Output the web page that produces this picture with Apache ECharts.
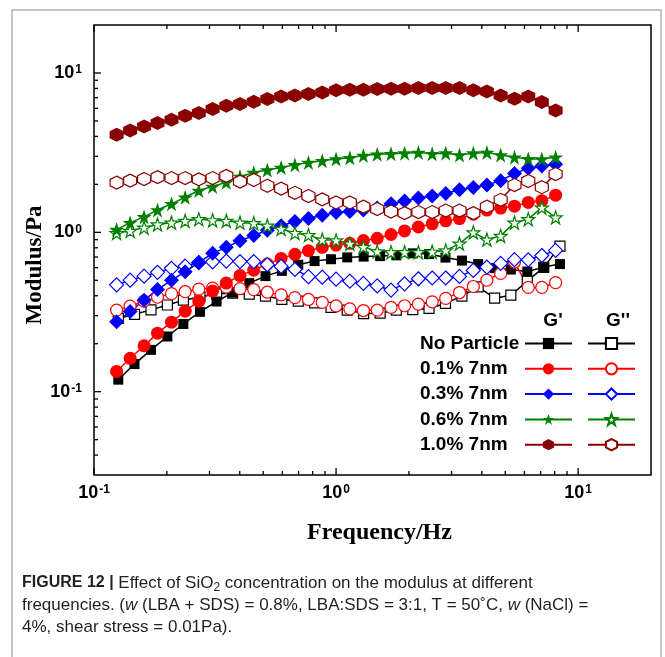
<!DOCTYPE html>
<html>
<head>
<meta charset="utf-8">
<title>Modulus vs frequency</title>
<script src="https://cdn.jsdelivr.net/npm/echarts@6/dist/echarts.min.js"></script>
<style>html,body{margin:0;padding:0;background:#fff;}</style>
</head>
<body>
<div id="main" style="width:665px;height:657px;"></div>
<script>
// frequencies (Hz) - particle runs and no-particle run were sampled differently
var freqA = [0.124, 0.141, 0.161, 0.183, 0.209, 0.238, 0.271, 0.309, 0.352, 0.401, 0.457,
             0.520, 0.593, 0.676, 0.769, 0.877, 1.000, 1.140, 1.297, 1.479, 1.687, 1.919,
             2.188, 2.495, 2.838, 3.236, 3.690, 4.198, 4.786, 5.458, 6.223, 7.079, 8.072];
var freqB = [0.126, 0.147, 0.172, 0.201, 0.234, 0.274, 0.321, 0.374, 0.438, 0.511, 0.597,
             0.698, 0.815, 0.953, 1.112, 1.300, 1.521, 1.774, 2.075, 2.421, 2.831, 3.311,
             3.864, 4.519, 5.272, 6.166, 7.211, 8.414];

var names = ['No Particle', '0.1% 7nm', '0.3% 7nm', '0.6% 7nm', '1.0% 7nm'];

// G' (storage) and G'' (loss), Pa
var gp0  = [0.119, 0.149, 0.183, 0.222, 0.266, 0.317, 0.368, 0.418, 0.480, 0.531, 0.573, 0.626, 0.660, 0.678,
            0.696, 0.704, 0.709, 0.717, 0.738, 0.730, 0.694, 0.665, 0.632, 0.596, 0.584, 0.567, 0.605, 0.632];
var gpp0 = [0.288, 0.306, 0.326, 0.350, 0.375, 0.393, 0.411, 0.415, 0.409, 0.398, 0.380, 0.370, 0.361, 0.338,
            0.325, 0.309, 0.311, 0.325, 0.327, 0.333, 0.358, 0.398, 0.455, 0.386, 0.403, 0.494, 0.603, 0.820];
var gp1  = [0.134, 0.162, 0.194, 0.233, 0.273, 0.320, 0.370, 0.428, 0.480, 0.535, 0.579, 0.632, 0.686, 0.728,
            0.766, 0.805, 0.832, 0.853, 0.888, 0.917, 0.969, 1.02, 1.08, 1.13, 1.18, 1.22, 1.30, 1.38, 1.42,
            1.46, 1.54, 1.58, 1.71];
var gpp1 = [0.325, 0.344, 0.370, 0.392, 0.412, 0.424, 0.440, 0.447, 0.453, 0.443, 0.437, 0.421, 0.405, 0.389,
            0.379, 0.363, 0.345, 0.331, 0.323, 0.325, 0.338, 0.346, 0.354, 0.366, 0.385, 0.419, 0.457, 0.501,
            0.552, 0.651, 0.451, 0.451, 0.483];
var gp2  = [0.275, 0.318, 0.375, 0.437, 0.501, 0.565, 0.646, 0.738, 0.805, 0.886, 0.955, 1.03, 1.10, 1.17,
            1.22, 1.28, 1.33, 1.35, 1.38, 1.42, 1.51, 1.57, 1.64, 1.69, 1.75, 1.85, 1.91, 1.98, 2.11, 2.34,
            2.52, 2.61, 2.67];
var gpp2 = [0.468, 0.501, 0.531, 0.561, 0.594, 0.614, 0.646, 0.653, 0.660, 0.655, 0.655, 0.627, 0.611, 0.585,
            0.527, 0.523, 0.508, 0.494, 0.478, 0.461, 0.434, 0.475, 0.511, 0.517, 0.517, 0.529, 0.577, 0.605,
            0.638, 0.674, 0.672, 0.715, 0.770];
var gp3  = [1.04, 1.15, 1.25, 1.38, 1.51, 1.66, 1.83, 1.94, 2.06, 2.24, 2.37, 2.46, 2.55, 2.65, 2.74, 2.81,
            2.88, 2.94, 3.03, 3.09, 3.11, 3.14, 3.17, 3.11, 3.14, 3.06, 3.14, 3.17, 3.06, 2.96, 2.89, 2.88, 2.96];
var gpp3 = [0.99, 1.02, 1.07, 1.12, 1.15, 1.18, 1.21, 1.19, 1.18, 1.15, 1.14, 1.10, 1.05, 0.99, 0.96, 0.90,
            0.89, 0.85, 0.81, 0.76, 0.75, 0.75, 0.75, 0.755, 0.77, 0.85, 1.00, 0.90, 0.95, 1.15, 1.21, 1.43, 1.24];
var gp4  = [4.09, 4.36, 4.62, 4.85, 5.09, 5.39, 5.60, 5.94, 6.23, 6.38, 6.60, 6.86, 7.13, 7.23, 7.38, 7.55,
            7.78, 7.85, 7.85, 7.93, 7.97, 7.97, 8.05, 8.05, 8.05, 8.05, 7.78, 7.66, 7.23, 6.89, 7.13, 6.57, 5.82];
var gpp4 = [2.05, 2.11, 2.16, 2.22, 2.19, 2.19, 2.15, 2.19, 2.26, 2.08, 2.13, 1.96, 1.88, 1.77, 1.69, 1.61,
            1.54, 1.54, 1.45, 1.40, 1.35, 1.32, 1.34, 1.34, 1.37, 1.37, 1.32, 1.45, 1.60, 1.98, 2.10, 1.92, 2.32];

var xMin = 0.1, xMax = 20, yMin = 0.03, yMax = 20;
var xMajor = [0.1, 1, 10];
var xMinor = [0.2, 0.3, 0.4, 0.5, 0.6, 0.7, 0.8, 0.9, 2, 3, 4, 5, 6, 7, 8, 9];
var yMajor = [0.1, 1, 10];
var yMinor = [0.04, 0.05, 0.06, 0.07, 0.08, 0.09, 0.2, 0.3, 0.4, 0.5, 0.6, 0.7, 0.8, 0.9,
              2, 3, 4, 5, 6, 7, 8, 9];

var sans = "'Liberation Sans', Arial, sans-serif";
var serif = "'Liberation Serif', 'Times New Roman', serif";

var HEX = 'path://M50,0 L93.3,25 L93.3,75 L50,100 L6.7,75 L6.7,25 Z';
var STAR = 'path://M50,0 L61.8,35.4 L99,35.4 L69,57.3 L80.4,92.7 L50,70.8 L19.6,92.7 L31,57.3 L1,35.4 L38.2,35.4 Z';

var colors = ['#000000', '#ff0000', '#0000ff', '#008000', '#8b0000'];
var symbols = ['rect', 'circle', 'diamond', STAR, HEX];
var sizeFill = [10, 13, 15, 15, 14];
var sizeOpen = [10, 12, 14, 13, 13];
var gpAll = [gp0, gp1, gp2, gp3, gp4];
var gppAll = [gpp0, gpp1, gpp2, gpp3, gpp4];

function pairs(xs, ys) {
    return ys.map(function (y, i) { return [xs[i], y]; });
}

function mkSeries(name, xs, ys, k, open) {
    return {
        name: name,
        type: 'line',
        data: pairs(xs, ys),
        symbol: symbols[k],
        symbolSize: open ? sizeOpen[k] : sizeFill[k],
        showAllSymbol: true,
        lineStyle: {color: colors[k], width: 1.5},
        itemStyle: open ? {color: '#ffffff', borderColor: colors[k], borderWidth: 1.2}
                        : {color: colors[k], borderWidth: 0},
        emphasis: {disabled: true},
        z: 3
    };
}

var series = [];
for (var k = 0; k < 5; k++) {
    var xs = k === 0 ? freqB : freqA;
    series.push(mkSeries(names[k] + " G''", xs, gppAll[k], k, true));
    series.push(mkSeries(names[k], xs, gpAll[k], k, false));
}

// ticks drawn inside the frame, through the axis scales
var ticks = [];
yMajor.forEach(function (v) { ticks.push([xMin, v, 7, 0]); });
yMinor.forEach(function (v) { ticks.push([xMin, v, 4, 0]); });
xMajor.forEach(function (v) { ticks.push([v, yMin, 0, -7]); ticks.push([v, yMax, 0, 7]); });
xMinor.forEach(function (v) { ticks.push([v, yMin, 0, -4]); ticks.push([v, yMax, 0, 4]); });

series.push({
    type: 'custom',
    silent: true,
    clip: false,
    z: 5,
    data: ticks,
    renderItem: function (params, api) {
        var p = api.coord([api.value(0), api.value(1)]);
        return {
            type: 'line',
            shape: {x1: p[0], y1: p[1], x2: p[0] + api.value(2), y2: p[1] + api.value(3)},
            style: {stroke: '#000', lineWidth: 1.3}
        };
    }
});

function powLabel(v) {
    var e = Math.log(v) / Math.LN10;
    var r = Math.round(e);
    if (Math.abs(e - r) > 1e-6) return '';
    return '{b|10}{s|' + r + '}';
}

var labelRich = {
    b: {fontSize: 18, fontWeight: 'bold', fontFamily: sans, color: '#000'},
    s: {fontSize: 12, fontWeight: 'bold', fontFamily: sans, color: '#000', verticalAlign: 'top', padding: [0, 0, 0, 1]}
};

var legendText = {t: {width: 100, align: 'left', fontSize: 19, fontWeight: 'bold', fontFamily: sans, color: '#000'}};

var myChart = echarts.init(document.getElementById('main'));

var option = {
    backgroundColor: '#ffffff',
    animation: false,
    grid: {
        left: 94, top: 25, right: 14, bottom: 182,
        show: true, borderColor: '#000', borderWidth: 1.5,
        outerBoundsMode: 'none'
    },
    xAxis: {
        type: 'log',
        min: xMin, max: xMax,
        name: 'Frequency/Hz',
        nameLocation: 'middle',
        nameGap: 46,
        nameMoveOverlap: false,
        nameTextStyle: {fontFamily: serif, fontWeight: 'bold', fontSize: 24, color: '#000', padding: [0, 0, 0, 14]},
        axisLine: {show: false},
        axisTick: {show: false},
        splitLine: {show: false},
        axisLabel: {margin: 9, formatter: powLabel, rich: labelRich, showMinLabel: true, showMaxLabel: false}
    },
    yAxis: {
        type: 'log',
        min: yMin, max: yMax,
        name: 'Modulus/Pa',
        nameLocation: 'middle',
        nameGap: 47,
        nameMoveOverlap: false,
        nameTextStyle: {fontFamily: serif, fontWeight: 'bold', fontSize: 23, color: '#000', padding: [0, 30, 0, 0]},
        axisLine: {show: false},
        axisTick: {show: false},
        splitLine: {show: false},
        axisLabel: {margin: 12, formatter: powLabel, rich: labelRich, showMinLabel: false, showMaxLabel: false}
    },
    legend: [{
        data: names,
        orient: 'vertical',
        left: 420, top: 334,
        padding: 0,
        align: 'right',
        itemWidth: 47, itemHeight: 14, itemGap: 6.3,
        selectedMode: false,
        formatter: function (n) { return '{t|' + n + '}'; },
        textStyle: {rich: legendText}
    }, {
        data: names.map(function (n) { return n + " G''"; }),
        orient: 'vertical',
        left: 587, top: 334,
        padding: 0,
        align: 'left',
        itemWidth: 47, itemHeight: 14, itemGap: 6.3,
        selectedMode: false,
        formatter: function () { return '{t| }'; },
        textStyle: {rich: {t: {width: 1, fontSize: 19, fontFamily: sans}}}
    }],
    graphic: [
        {type: 'rect', silent: true, z: -10,
         shape: {x: 12, y: 10, width: 649, height: 700},
         style: {fill: 'transparent', stroke: '#b3b3b3', lineWidth: 1.5}},
        {type: 'text', x: 553, y: 321, silent: true,
         style: {text: "G'", textAlign: 'center', textVerticalAlign: 'middle',
                 fontSize: 19, fontWeight: 'bold', fontFamily: sans, fill: '#000'}},
        {type: 'text', x: 618, y: 321, silent: true,
         style: {text: "G''", textAlign: 'center', textVerticalAlign: 'middle',
                 fontSize: 19, fontWeight: 'bold', fontFamily: sans, fill: '#000'}},
        {type: 'text', x: 22, y: 572, silent: true,
         style: {
             text: '{b|FIGURE 12 |} Effect of SiO{sub|2} concentration on the modulus at different\n' +
                   'frequencies. ({i|w} (LBA + SDS) = 0.8%, LBA:SDS = 3:1, T = 50˚C, {i|w} (NaCl) =\n' +
                   '4%, shear stress = 0.01Pa).',
             fontSize: 17, fontFamily: sans, fill: '#231f20',
             lineHeight: 22, textAlign: 'left', textVerticalAlign: 'top',
             rich: {
                 b: {fontSize: 16, fontWeight: 'bold', fontFamily: sans, fill: '#231f20', lineHeight: 22},
                 i: {fontSize: 17, fontStyle: 'italic', fontFamily: sans, fill: '#231f20', lineHeight: 22},
                 sub: {fontSize: 12, fontFamily: sans, fill: '#231f20', verticalAlign: 'bottom', lineHeight: 18}
             }
         }}
    ],
    series: series
};

myChart.setOption(option);
</script>
</body>
</html>
